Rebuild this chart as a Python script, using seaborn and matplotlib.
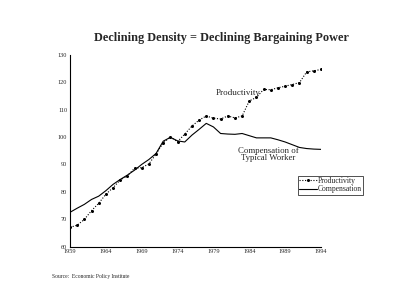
import numpy as np
import pandas as pd
import matplotlib
matplotlib.use('Agg')
import matplotlib.pyplot as plt
import seaborn as sns

# Data (index values)
years = list(range(1959, 1995))
productivity = [67.0, 67.8, 69.9, 73.1, 75.8, 79.1, 81.5, 84.3, 85.8, 88.6,
                88.8, 90.2, 93.8, 97.9, 100.0, 98.3, 101.1, 104.0, 106.2, 107.7,
                106.9, 106.6, 107.7, 107.0, 107.7, 113.2, 114.5, 117.4, 117.3, 118.0,
                118.6, 119.2, 119.9, 123.8, 124.2, 124.7]
compensation = [72.5, 74.0, 75.4, 77.2, 78.4, 80.4, 82.7, 84.5, 86.1, 87.9,
                90.0, 91.8, 94.0, 98.5, 99.9, 98.6, 98.2, 100.7, 102.8, 105.0,
                103.7, 101.3, 101.1, 101.0, 101.3, 100.5, 99.7, 99.7, 99.7, 99.0,
                98.2, 97.2, 96.2, 95.8, 95.6, 95.5]
x_ticks = [1959, 1964, 1969, 1974, 1979, 1984, 1989, 1994]
y_ticks = [60, 70, 80, 90, 100, 110, 120, 130]

df = pd.DataFrame({'Year': years, 'Productivity': productivity,
                   'Compensation': compensation})

sns.set_style('white')
plt.rcParams['font.family'] = ['Liberation Serif', 'DejaVu Serif']

fig = plt.figure(figsize=(4.0, 3.07), dpi=100)
ax = fig.add_axes([0.175, 0.197, 0.6275, 0.624])

sns.lineplot(data=df, x='Year', y='Productivity', ax=ax, color='black',
             linestyle=(0, (1, 1.5)), linewidth=0.8, marker='o', markersize=2.2,
             markeredgewidth=0, label='Productivity')
sns.lineplot(data=df, x='Year', y='Compensation', ax=ax, color='black',
             linewidth=0.8, label='Compensation')

ax.set_xlim(1959, 1994)
ax.set_ylim(60, 130)
ax.set_xticks(x_ticks)
ax.set_yticks(y_ticks)
ax.tick_params(labelsize=4.5, direction='in', length=2, width=0.6, pad=2)
ax.set_xlabel('')
ax.set_ylabel('')
for s in ['top', 'right']:
    ax.spines[s].set_visible(False)
for s in ['left', 'bottom']:
    ax.spines[s].set_color('black')
    ax.spines[s].set_linewidth(0.8)

ax.text(1982.4, 116.0, 'Productivity', fontsize=6.5, ha='center', va='center')
ax.text(1986.6, 93.6, 'Compensation of\nTypical Worker', fontsize=6.3,
        ha='center', va='center', linespacing=0.95)

leg = ax.legend(loc='upper right', bbox_to_anchor=(0.9075, 0.427),
                bbox_transform=fig.transFigure, fontsize=5.5, frameon=True,
                fancybox=False, handlelength=2.3, handletextpad=0.1,
                borderpad=0.15, labelspacing=0.05, borderaxespad=0)
leg.get_frame().set_edgecolor('black')
leg.get_frame().set_linewidth(0.6)

fig.text(0.553, 0.876, 'Declining Density = Declining Bargaining Power',
         fontsize=8.8, fontweight='bold', ha='center', va='center')
fig.text(0.13, 0.098, 'Source:  Economic Policy Institute', fontsize=4.0,
         ha='left', va='center')

fig.savefig('out.png', dpi=100, facecolor='white')
